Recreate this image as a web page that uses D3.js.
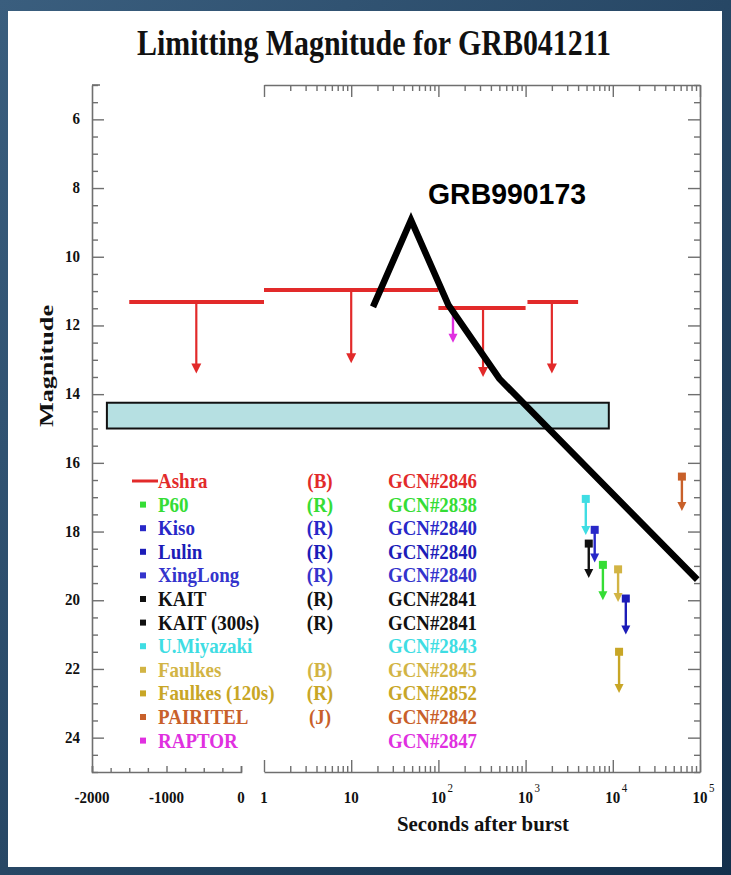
<!DOCTYPE html>
<html>
<head>
<meta charset="utf-8">
<script src="https://cdn.jsdelivr.net/npm/d3@7"></script>
<style>
  body { margin: 0; background: #1d3f5f; }
</style>
</head>
<body>
<script>
'use strict';

// ---- data ----
const magTicks = [6, 8, 10, 12, 14, 16, 18, 20, 22, 24];
const linTickLabels = [-2000, -1000, 0];
const logTickLabels = [1, 10, 100, 1000, 10000, 100000];

// Ashra limits: horizontal bar (time range) + arrow
const ashraStart = [-1500, 1, 100, 1050];
const ashraEnd = [1, 100, 1000, 4000];
const ashraMag = [11.32, 10.97, 11.49, 11.32];
const ashraArrowTime = [-600, 10, 325, 2000];
const ashraArrowMag = [13.4, 13.1, 13.5, 13.4];

// GRB990123 light curve
const grbTime = [17.8, 48.5, 130, 500, 93000];
const grbMag = [11.46, 8.93, 11.4, 13.55, 19.4];

// shaded band
const boxTime = [-1800, 9000];
const boxMag = [14.25, 15.0];

// other upper limits (square + arrow)
const limitName = ["U.Miyazaki", "KAIT", "Kiso", "P60", "Faulkes", "Lulin", "Faulkes (120s)", "PAIRITEL", "RAPTOR"];
const limitTime = [4900, 5300, 6200, 7700, 11500, 14100, 11800, 62000, 147];
const limitMag = [17.05, 18.35, 17.95, 18.97, 19.1, 19.95, 21.5, 16.4, 11.55];
const limitTip = [18.1, 19.35, 18.9, 20.0, 20.05, 21.0, 22.7, 17.4, 12.5];

// legend
const legendName = ["Ashra", "P60", "Kiso", "Lulin", "XingLong", "KAIT", "KAIT (300s)", "U.Miyazaki", "Faulkes", "Faulkes (120s)", "PAIRITEL", "RAPTOR"];
const legendBand = ["(B)", "(R)", "(R)", "(R)", "(R)", "(R)", "(R)", "", "(B)", "(R)", "(J)", ""];
const legendGcn = ["GCN#2846", "GCN#2838", "GCN#2840", "GCN#2840", "GCN#2840", "GCN#2841", "GCN#2841", "GCN#2843", "GCN#2845", "GCN#2852", "GCN#2842", "GCN#2847"];

const colorOf = {
  "Ashra": "#e22a2a", "P60": "#35dd35", "Kiso": "#2828c8", "Lulin": "#1c1cb8",
  "XingLong": "#3434cc", "KAIT": "#111111", "KAIT (300s)": "#111111",
  "U.Miyazaki": "#3fdde3", "Faulkes": "#d2b444", "Faulkes (120s)": "#c8a626",
  "PAIRITEL": "#c8602a", "RAPTOR": "#e030e0"
};

const width = 731, height = 875;
const serif = "'Liberation Serif', 'Times New Roman', serif";
const sy = 1.17; // the picture is stretched vertically

let svg = d3.select("body").append("svg")
  .attr("width", width)
  .attr("height", height);

let defs = svg.append("defs");
let grad = defs.append("linearGradient").attr("id", "bg")
  .attr("x1", "0").attr("y1", "0").attr("x2", "1").attr("y2", "1");
grad.append("stop").attr("offset", "0").attr("stop-color", "#3a5e7e");
grad.append("stop").attr("offset", "1").attr("stop-color", "#14304c");

svg.append("rect").attr("width", width).attr("height", height).attr("fill", "url(#bg)");
svg.append("rect")
  .attr("x", 8).attr("y", 11)
  .attr("width", 714).attr("height", 856)
  .attr("fill", "#fff");

// scales
let xLin = d3.scaleLinear().domain([-2000, 0]).range([92, 241]);
let xLog = d3.scaleLog().domain([1, 1e5]).range([264, 700]);
let y = d3.scaleLinear().domain([5, 25]).range([85, 772]);
let xt = t => t <= 0 ? xLin(t) : xLog(t);

function stext(parent, x, yy, str, size, opts) {
  opts = opts || {};
  let g = parent.append("g")
    .attr("transform", "translate(" + x + "," + yy + ") scale(1," + (opts.sy || sy) + ")");
  let t = g.append("text")
    .attr("font-family", opts.family || serif)
    .attr("font-size", size)
    .attr("font-weight", opts.weight || "bold")
    .attr("fill", opts.fill || "#111")
    .attr("text-anchor", opts.anchor || "start")
    .text(str);
  if (opts.len) t.attr("textLength", opts.len).attr("lengthAdjust", "spacingAndGlyphs");
  return t;
}

// ---- title ----
stext(svg, 374, 55, "Limitting Magnitude for GRB041211", 30, { anchor: "middle", len: 474 });

// ---- axes ----
const axisColor = "#6f6f6f";
function styleAxis(g) {
  g.select(".domain").attr("stroke", axisColor).attr("stroke-width", 1.6);
  g.selectAll(".tick line").attr("stroke", axisColor).attr("stroke-width", 1.4);
  g.selectAll("text").remove();
}

let minorMags = d3.range(5, 25.01, 0.5);

// left y axis (ticks pointing inward)
let yLeft = svg.append("g").attr("transform", "translate(92,0)")
  .call(d3.axisRight(y).tickValues(minorMags).tickSizeInner(6).tickSizeOuter(0));
styleAxis(yLeft);
yLeft.selectAll(".tick line").attr("x2", d => d % 2 === 0 ? 12 : 6);
yLeft.append("line").attr("x1", 0).attr("x2", 8).attr("y1", 85).attr("y2", 85)
  .attr("stroke", axisColor).attr("stroke-width", 1.6);

// right y axis
let yRight = svg.append("g").attr("transform", "translate(700,0)")
  .call(d3.axisLeft(y).tickValues(minorMags).tickSizeInner(6).tickSizeOuter(0));
styleAxis(yRight);
yRight.selectAll(".tick line").attr("x2", d => d % 2 === 0 ? -12 : -6);

// y tick labels
magTicks.forEach(m => {
  stext(svg, 80, y(m) + 5, m, 15, { anchor: "end" });
});

// left panel bottom axis (linear)
let linTicks = d3.range(-2000, 1, 250);
let xBotLin = svg.append("g").attr("transform", "translate(0,772)")
  .call(d3.axisTop(xLin).tickValues(linTicks).tickSizeInner(4).tickSizeOuter(6));
styleAxis(xBotLin);
xBotLin.selectAll(".tick line").attr("y2", d => d % 1000 === 0 ? -6 : -4);
linTickLabels.forEach(v => {
  stext(svg, xLin(v), 803, v, 15, { anchor: "middle" });
});

// right panel bottom and top axes (log)
let logTicks = xLog.ticks();
let isMajor = d => Math.abs(Math.log10(d) - Math.round(Math.log10(d))) < 1e-9;
let xBotLog = svg.append("g").attr("transform", "translate(0,772)")
  .call(d3.axisTop(xLog).tickValues(logTicks).tickSizeOuter(0));
styleAxis(xBotLog);
xBotLog.selectAll(".tick line").attr("y2", d => isMajor(d) ? -12 : -6);

let xTopLog = svg.append("g").attr("transform", "translate(0,85)")
  .call(d3.axisBottom(xLog).tickValues(logTicks).tickSizeOuter(0));
styleAxis(xTopLog);
xTopLog.selectAll(".tick line").attr("y2", d => isMajor(d) ? 12 : 6);

logTickLabels.forEach(v => {
  let p = Math.round(Math.log10(v));
  if (p < 2) {
    stext(svg, xLog(v), 803, String(v), 15, { anchor: "middle" });
  } else {
    stext(svg, xLog(v), 803, "10", 15, { anchor: "middle" });
    stext(svg, xLog(v) + 9, 792, String(p), 11, { weight: "normal" });
  }
});

// axis titles
stext(svg, 483, 831, "Seconds after burst", 19, { anchor: "middle", len: 172, sy: 1.1 });
svg.append("text")
  .attr("transform", "translate(53,366) rotate(-90)")
  .attr("font-family", serif)
  .attr("font-size", 18)
  .attr("font-weight", "bold")
  .attr("text-anchor", "middle")
  .attr("textLength", 122)
  .attr("lengthAdjust", "spacingAndGlyphs")
  .attr("fill", "#111")
  .text("Magnitude");

// ---- plot content ----
let plot = svg.append("g");

// shaded band
plot.append("rect")
  .attr("x", xt(boxTime[0]))
  .attr("y", y(boxMag[0]))
  .attr("width", xt(boxTime[1]) - xt(boxTime[0]))
  .attr("height", y(boxMag[1]) - y(boxMag[0]))
  .attr("fill", "#b6e0e2")
  .attr("stroke", "#111")
  .attr("stroke-width", 2);

function arrow(g, x, y0, y1, color, w, head) {
  g.append("line")
    .attr("x1", x).attr("x2", x)
    .attr("y1", y0).attr("y2", y1 - head * 0.8)
    .attr("stroke", color).attr("stroke-width", w);
  g.append("path")
    .attr("d", "M" + (x - head / 2) + "," + (y1 - head) + "L" + (x + head / 2) + "," + (y1 - head) + "L" + x + "," + y1 + "Z")
    .attr("fill", color);
}

// Ashra bars
let ashra = plot.append("g");
ashraStart.forEach((t0, i) => {
  ashra.append("line")
    .attr("x1", xt(t0)).attr("x2", xt(ashraEnd[i]))
    .attr("y1", y(ashraMag[i])).attr("y2", y(ashraMag[i]))
    .attr("stroke", colorOf["Ashra"]).attr("stroke-width", 4);
  arrow(ashra, xt(ashraArrowTime[i]), y(ashraMag[i]), y(ashraArrowMag[i]), colorOf["Ashra"], 2.2, 10);
});

// upper limits from other telescopes
let limits = plot.append("g");
limitName.forEach((name, i) => {
  let c = colorOf[name];
  let x = xLog(limitTime[i]);
  arrow(limits, x, y(limitMag[i]), y(limitTip[i]), c, 2.4, 9);
  if (name !== "RAPTOR") {
    limits.append("rect")
      .attr("x", x - 4).attr("y", y(limitMag[i]) - 4)
      .attr("width", 8).attr("height", 8)
      .attr("fill", c);
  }
});

// GRB990123 light curve
let line = d3.line()
  .x(d => xLog(d[0]))
  .y(d => y(d[1]));
plot.append("path")
  .datum(d3.zip(grbTime, grbMag))
  .attr("d", line)
  .attr("fill", "none")
  .attr("stroke", "#000")
  .attr("stroke-width", 6.5)
  .attr("stroke-linejoin", "miter");

stext(svg, 428, 204, "GRB990173", 26, {
  family: "'Liberation Sans', Arial, sans-serif", len: 158, fill: "#000"
});

// ---- legend ----
let legend = svg.append("g");
legendName.forEach((name, i) => {
  let cy = 481 + i * 23.6;
  let c = colorOf[name];
  if (name === "Ashra") {
    legend.append("line")
      .attr("x1", 132).attr("x2", 158)
      .attr("y1", cy).attr("y2", cy)
      .attr("stroke", c).attr("stroke-width", 3);
  } else {
    legend.append("rect")
      .attr("x", 140).attr("y", cy - 3)
      .attr("width", 6).attr("height", 6)
      .attr("fill", c);
  }
  stext(legend, 158, cy + 7, name, 19, { fill: c, sy: 1.12 });
  if (legendBand[i]) stext(legend, 320, cy + 7, legendBand[i], 19, { fill: c, anchor: "middle", sy: 1.12 });
  stext(legend, 388, cy + 7, legendGcn[i], 19, { fill: c, len: 89, sy: 1.12 });
});
</script>
</body>
</html>
